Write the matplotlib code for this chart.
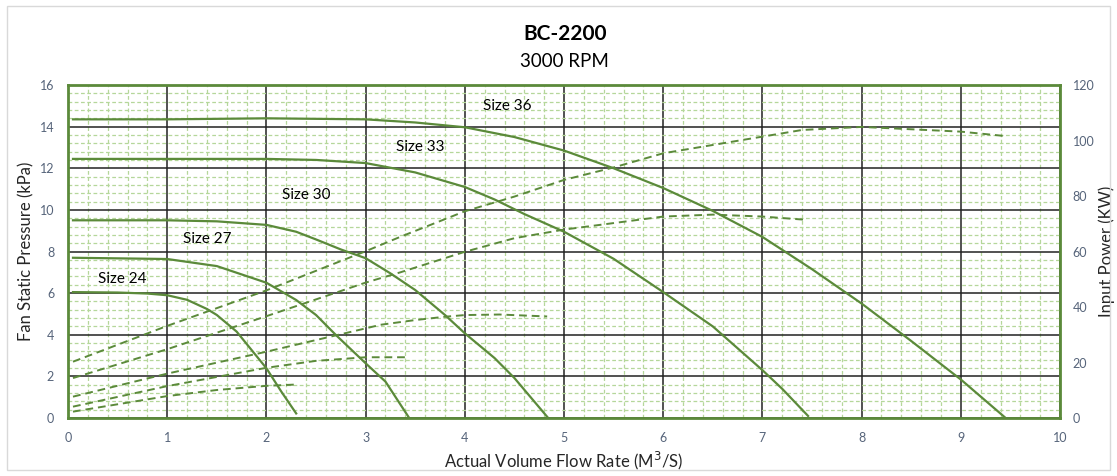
import matplotlib.pyplot as plt
from matplotlib.patches import Rectangle
from matplotlib.ticker import MultipleLocator

plt.rcParams['font.family'] = ['Lato', 'DejaVu Sans']

# --- datos (caudal m3/s, presion kPa, potencia kW)
q36 = [0.05, 1, 2, 3, 3.5, 4, 4.5, 5, 5.5, 6, 6.5, 7, 7.5, 8, 8.5, 9, 9.44]
p36 = [14.35, 14.35, 14.4, 14.35, 14.2, 13.97, 13.5, 12.85, 12.0, 11.05, 9.95, 8.7, 7.15, 5.5, 3.7, 1.85, 0.05]
q33 = [0.05, 1, 2, 2.5, 3, 3.5, 4, 4.3, 4.6, 5, 5.5, 6, 6.5, 7, 7.2, 7.46]
p33 = [12.45, 12.45, 12.45, 12.4, 12.25, 11.8, 11.1, 10.5, 9.8, 8.95, 7.65, 6.05, 4.4, 2.3, 1.4, 0.1]
q30 = [0.05, 1, 1.5, 2, 2.3, 2.5, 2.75, 3, 3.25, 3.5, 3.8, 4, 4.3, 4.5, 4.83]
p30 = [9.5, 9.5, 9.45, 9.28, 8.95, 8.58, 8.1, 7.68, 6.95, 6.15, 4.95, 4.07, 2.88, 1.92, 0.06]
q27 = [0.05, 1, 1.5, 2, 2.3, 2.5, 2.7, 3, 3.2, 3.43]
p27 = [7.7, 7.64, 7.3, 6.5, 5.67, 4.95, 3.99, 2.63, 1.75, 0.07]
q24 = [0.05, 0.5, 0.8, 1, 1.2, 1.4, 1.5, 1.7, 1.85, 2, 2.15, 2.3]
p24 = [6.05, 6.03, 5.98, 5.9, 5.68, 5.24, 4.95, 4.15, 3.27, 2.39, 1.27, 0.22]

wq36 = [0.05, 1, 2, 3, 3.35, 4, 4.5, 5, 5.5, 6, 7, 7.4, 8, 9, 9.45]
w36 = [20.3, 33.2, 46.0, 60.1, 65.3, 74.5, 79.8, 85.8, 90.3, 95.4, 101.4, 103.8, 104.9, 103.2, 101.6]
wq33 = [0.05, 1, 2, 3, 3.35, 4, 4.5, 5, 6, 6.5, 7, 7.45]
w33 = [14.4, 24.8, 36.7, 48.8, 52.5, 59.9, 64.8, 67.9, 72.6, 73.3, 72.6, 71.4]
wq30 = [0.05, 1, 2, 3, 3.15, 3.5, 3.8, 4.0, 4.35, 4.83]
w30 = [7.7, 16.0, 23.9, 32.3, 33.6, 35.3, 36.5, 37.1, 37.3, 36.6]
wq27 = [0.05, 1, 2, 2.5, 3, 3.43]
w27 = [4.1, 11.5, 18.1, 20.6, 21.9, 21.9]
wq24 = [0.05, 1, 1.5, 2, 2.32]
w24 = [2.3, 7.9, 10.1, 11.6, 12.1]

etiquetas = ['Size 36', 'Size 33', 'Size 30', 'Size 27', 'Size 24']
pos_etiq = [(4.43, 15.0), (3.55, 13.0), (2.4, 10.7), (1.4, 8.6), (0.55, 6.7)]

verde = '#5b8a3a'
gris_tick = '#56647a'

fig = plt.figure(figsize=(11.17, 4.76), dpi=100)
fig.patches.append(Rectangle((0.006, 0.012), 0.988, 0.976, transform=fig.transFigure,
                             fill=False, edgecolor='#d9d9d9', linewidth=1))
ax = fig.add_axes([0.0609, 0.1218, 0.8881, 0.6996])

# curvas de presion (solidas)
for q, p in [(q36, p36), (q33, p33), (q30, p30), (q27, p27), (q24, p24)]:
    ax.plot(q, p, color=verde, linewidth=1.6, zorder=5)

for txt, (x, y) in zip(etiquetas, pos_etiq):
    ax.text(x, y, txt, ha='center', va='center', fontsize=11, color='black', zorder=6)

ax.set_xlim(0, 10)
ax.set_ylim(0, 16)
ax.xaxis.set_major_locator(MultipleLocator(1))
ax.yaxis.set_major_locator(MultipleLocator(2))
ax.xaxis.set_minor_locator(MultipleLocator(0.2))
ax.yaxis.set_minor_locator(MultipleLocator(0.4))
ax.grid(which='minor', color='#b5d79a', linestyle='--', linewidth=0.9, dashes=(3, 2))
ax.grid(which='major', color='#222222', linestyle='-', linewidth=1.1)
ax.set_axisbelow(True)
ax.tick_params(which='both', length=0, labelsize=9, labelcolor=gris_tick, pad=10)
for s in ax.spines.values():
    s.set_color(verde)
    s.set_linewidth(2)

ax.set_xlabel('Actual Volume Flow Rate (M$^3$/S)', fontsize=12, color='#262626', labelpad=4)
ax.set_ylabel('Fan Static Pressure (kPa)', fontsize=12, color='#262626', labelpad=4)

# potencia en eje derecho (discontinuas)
ax2 = ax.twinx()
for q, w in [(wq36, w36), (wq33, w33), (wq30, w30), (wq27, w27), (wq24, w24)]:
    ax2.plot(q, w, color=verde, linewidth=1.4, linestyle=(0, (4, 2.5)), zorder=5)
ax2.set_ylim(0, 120)
ax2.yaxis.set_major_locator(MultipleLocator(20))
ax2.tick_params(length=0, labelsize=9, labelcolor=gris_tick, pad=9)
for s in ax2.spines.values():
    s.set_visible(False)
ax2.set_ylabel('Input Power (KW)', fontsize=12, color='#262626', labelpad=3)

fig.text(0.5055, 0.9286, 'BC-2200', ha='center', va='center', fontsize=15, fontweight='bold')
fig.text(0.5055, 0.87, '3000 RPM', ha='center', va='center', fontsize=13.5)

plt.savefig('out.png', dpi=100)
